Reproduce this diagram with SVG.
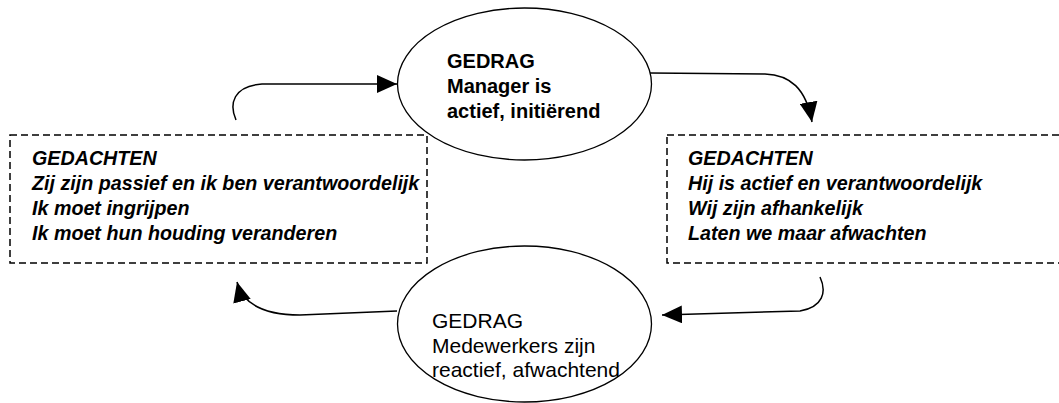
<svg xmlns="http://www.w3.org/2000/svg" width="1059" height="403" viewBox="0 0 1059 403">
<style>
.ell{fill:#fff;stroke:#000;stroke-width:1.3}
.box{fill:#fff;stroke:#000;stroke-width:1.5;stroke-dasharray:7 4}
.con{fill:none;stroke:#000;stroke-width:1.5}
.t1{font-family:"Liberation Sans",Arial,sans-serif;font-size:20px;font-weight:bold;fill:#000}
.t2{font-family:"Liberation Sans",Arial,sans-serif;font-size:21px;fill:#000}
.th{font-family:"Liberation Sans",Arial,sans-serif;font-size:19.7px;font-weight:bold;font-style:italic;fill:#000}
</style>
<defs>
<marker id="ah" viewBox="0 0 20 18" refX="20" refY="9" markerWidth="20" markerHeight="18" markerUnits="userSpaceOnUse" orient="auto">
<path d="M0,0 L20,9 L0,18 z" fill="#000"/>
</marker>
</defs>
<rect width="1059" height="403" fill="#fff"/>
<g id="left-box">
<rect class="box" x="10" y="135" width="417" height="128"/>
<text class="th" x="32" y="165">GEDACHTEN</text>
<text class="th" x="32" y="190">Zij zijn passief en ik ben verantwoordelijk</text>
<text class="th" x="32" y="215">Ik moet ingrijpen</text>
<text class="th" x="32" y="240">Ik moet hun houding veranderen</text>
</g>
<g id="right-box">
<rect class="box" x="667" y="135" width="410" height="128"/>
<text class="th" x="688" y="165">GEDACHTEN</text>
<text class="th" x="688" y="190">Hij is actief en verantwoordelijk</text>
<text class="th" x="688" y="215">Wij zijn afhankelijk</text>
<text class="th" x="688" y="240">Laten we maar afwachten</text>
</g>
<g id="top-ellipse">
<ellipse class="ell" cx="524.5" cy="84" rx="127" ry="76"/>
<text class="t1" x="447" y="68">GEDRAG</text>
<text class="t1" x="447" y="93">Manager is</text>
<text class="t1" x="447" y="118">actief, initiërend</text>
</g>
<g id="bottom-ellipse">
<ellipse class="ell" cx="524.5" cy="324" rx="127" ry="78"/>
<text class="t2" x="432" y="328">GEDRAG</text>
<text class="t2" x="432" y="353">Medewerkers zijn</text>
<text class="t2" x="432" y="377">reactief, afwachtend</text>
</g>
<g id="connectors">
<path class="con" d="M236,120 C229,104 233,86 262,84 L397,84" marker-end="url(#ah)"/>
<path class="con" d="M650,73 L765,74 C790,75 806,88 812,122" marker-end="url(#ah)"/>
<path class="con" d="M820,277 C827,292 823,307 800,311 L662,315" marker-end="url(#ah)"/>
<path class="con" d="M397,311 L300,315 C265,315 243,305 237,282" marker-end="url(#ah)"/>
</g>
</svg>
